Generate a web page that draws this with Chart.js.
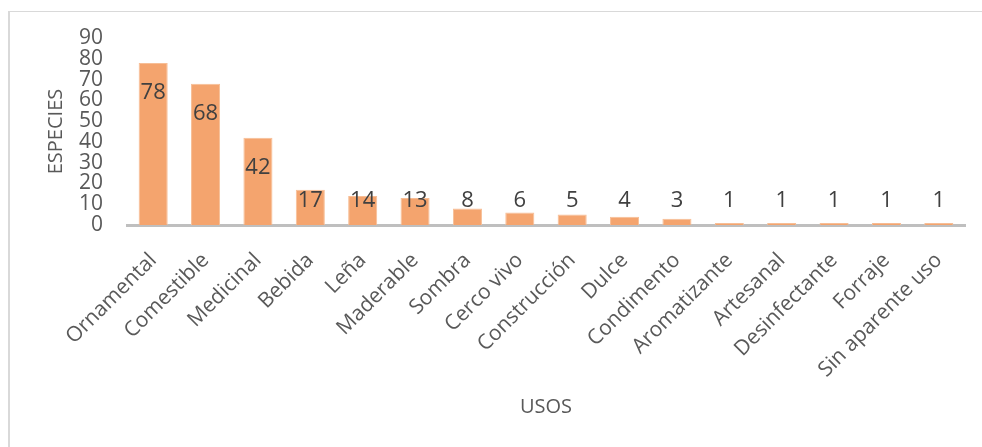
<!DOCTYPE html>
<html>
<head>
<meta charset="utf-8">
<script src="https://cdn.jsdelivr.net/npm/chart.js@4.4.0/dist/chart.umd.min.js"></script>
<style>
  html, body { margin: 0; padding: 0; background: #fff; overflow: hidden; }
  #frame { position: absolute; left: 8px; top: 11px; width: 1000px; height: 460px;
           border-left: 2px solid #d9d9d9; border-top: 1.5px solid #d9d9d9; }
  canvas { position: absolute; left: 0; top: 0; }
</style>
</head>
<body>
<div id="frame"></div>
<canvas id="chart" width="982" height="447"></canvas>
<script>
const usos = ['Ornamental', 'Comestible', 'Medicinal', 'Bebida', 'Leña', 'Maderable',
  'Sombra', 'Cerco vivo', 'Construcción', 'Dulce', 'Condimento', 'Aromatizante',
  'Artesanal', 'Desinfectante', 'Forraje', 'Sin aparente uso'];
const especies = [78, 68, 42, 17, 14, 13, 8, 6, 5, 4, 3, 1, 1, 1, 1, 1];
const yTicks = [0, 10, 20, 30, 40, 50, 60, 70, 80, 90];

const font = "'Open Sans', sans-serif";

// labels sit a bit below the bar top, but never lower than just above the axis
const barLabels = {
  id: 'barLabels',
  afterDatasetsDraw(chart) {
    const ctx = chart.ctx;
    const y0 = chart.scales.y.getPixelForValue(0);
    ctx.save();
    ctx.font = "22px " + font;
    ctx.fillStyle = '#404040';
    ctx.textAlign = 'center';
    ctx.textBaseline = 'middle';
    chart.getDatasetMeta(0).data.forEach((bar, i) => {
      ctx.fillText(especies[i], bar.x, Math.min(bar.y + 30, y0 - 24));
    });
    ctx.restore();
  }
};

new Chart(document.getElementById('chart'), {
  type: 'bar',
  data: {
    labels: usos,
    datasets: [{
      data: especies,
      backgroundColor: '#F4A46E',
      borderColor: '#F7BE96',
      borderWidth: 1,
      barPercentage: 0.555,
      categoryPercentage: 1
    }]
  },
  options: {
    responsive: false,
    animation: false,
    events: [],
    layout: { padding: { top: 38, right: 17, left: 0, bottom: 0 } },
    plugins: { legend: { display: false }, tooltip: { enabled: false } },
    scales: {
      x: {
        grid: { display: false, drawTicks: false },
        border: { display: true, color: '#BFBFBF', width: 3 },
        ticks: {
          color: '#595959', font: { family: font, size: 21 },
          maxRotation: 45, minRotation: 45, autoSkip: false, padding: 23
        },
        title: {
          display: true, text: 'USOS', color: '#595959',
          font: { family: font, size: 20 }, padding: { top: 0, bottom: 28 }
        },
        afterFit(scale) { scale.height = 222; }
      },
      y: {
        min: 0, max: 90,
        afterBuildTicks(scale) { scale.ticks = yTicks.map(v => ({ value: v })); },
        grid: { display: false, drawTicks: false },
        border: { display: false },
        ticks: { color: '#595959', font: { family: font, size: 21 }, padding: 24, autoSkip: false },
        title: {
          display: true, text: 'ESPECIES', color: '#595959',
          font: { family: font, size: 20 }, padding: { top: 44, bottom: 0 }
        },
        afterFit(scale) { scale.width = 127; }
      }
    }
  },
  plugins: [barLabels]
});
</script>
</body>
</html>
